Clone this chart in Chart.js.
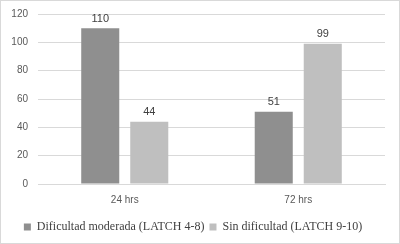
<!DOCTYPE html>
<html lang="es">
<head>
  <meta charset="UTF-8" />
  <title>LATCH</title>
  <script src="https://cdn.jsdelivr.net/npm/chart.js"></script>
  <style>
    body { margin: 0; background: #fff; }
    .box {
      width: 398px;
      height: 242px;
      border: 1px solid #d9d9d9;
    }
  </style>
</head>
<body>
  <div class="box">
    <canvas id="chart" width="398" height="242"></canvas>
  </div>
  <script>
    const categories = ['24 hrs', '72 hrs'];
    const seriesNames = ['Dificultad moderada (LATCH 4-8)', 'Sin dificultad (LATCH 9-10)'];
    const moderada = [110, 51];
    const sinDificultad = [44, 99];
    const yTicks = [0, 20, 40, 60, 80, 100, 120];

    // labels on top of each bar
    const barValues = {
      id: 'barValues',
      afterDatasetsDraw(chart) {
        const ctx = chart.ctx;
        ctx.save();
        ctx.font = '11px "Liberation Sans", Arial, sans-serif';
        ctx.fillStyle = '#404040';
        ctx.textAlign = 'center';
        ctx.textBaseline = 'bottom';
        chart.data.datasets.forEach((ds, i) => {
          chart.getDatasetMeta(i).data.forEach((bar, j) => {
            ctx.fillText(ds.data[j], bar.x, bar.y - 4);
          });
        });
        ctx.restore();
      }
    };

    new Chart(document.getElementById('chart'), {
      type: 'bar',
      data: {
        labels: categories,
        datasets: [
          { label: seriesNames[0], data: moderada, backgroundColor: '#8f8f8f' },
          { label: seriesNames[1], data: sinDificultad, backgroundColor: '#bfbfbf' }
        ]
      },
      options: {
        responsive: false,
        animation: false,
        categoryPercentage: 0.565,
        barPercentage: 0.776,
        layout: { padding: { top: 0, right: 14, left: 0, bottom: 0 } },
        plugins: {
          tooltip: { enabled: false },
          legend: {
            position: 'bottom',
            labels: {
              boxWidth: 7,
              boxHeight: 7,
              padding: 5,
              color: '#404040',
              font: { family: '"Liberation Serif", "Times New Roman", serif', size: 12 }
            }
          }
        },
        scales: {
          x: {
            grid: { display: false },
            border: { color: '#d9d9d9' },
            afterFit: s => { s.height = 32; },
            ticks: {
              color: '#595959',
              padding: 2,
              font: { family: '"Liberation Sans", Arial, sans-serif', size: 10 }
            }
          },
          y: {
            min: 0,
            max: 120,
            afterBuildTicks: s => { s.ticks = yTicks.map(v => ({ value: v })); },
            afterFit: s => { s.width = 37; s.paddingTop = 13; },
            grid: { color: '#d9d9d9', drawTicks: false },
            border: { display: false },
            ticks: {
              color: '#595959',
              padding: 10,
              font: { family: '"Liberation Sans", Arial, sans-serif', size: 10 }
            }
          }
        }
      },
      plugins: [barValues]
    });
  </script>
</body>
</html>
